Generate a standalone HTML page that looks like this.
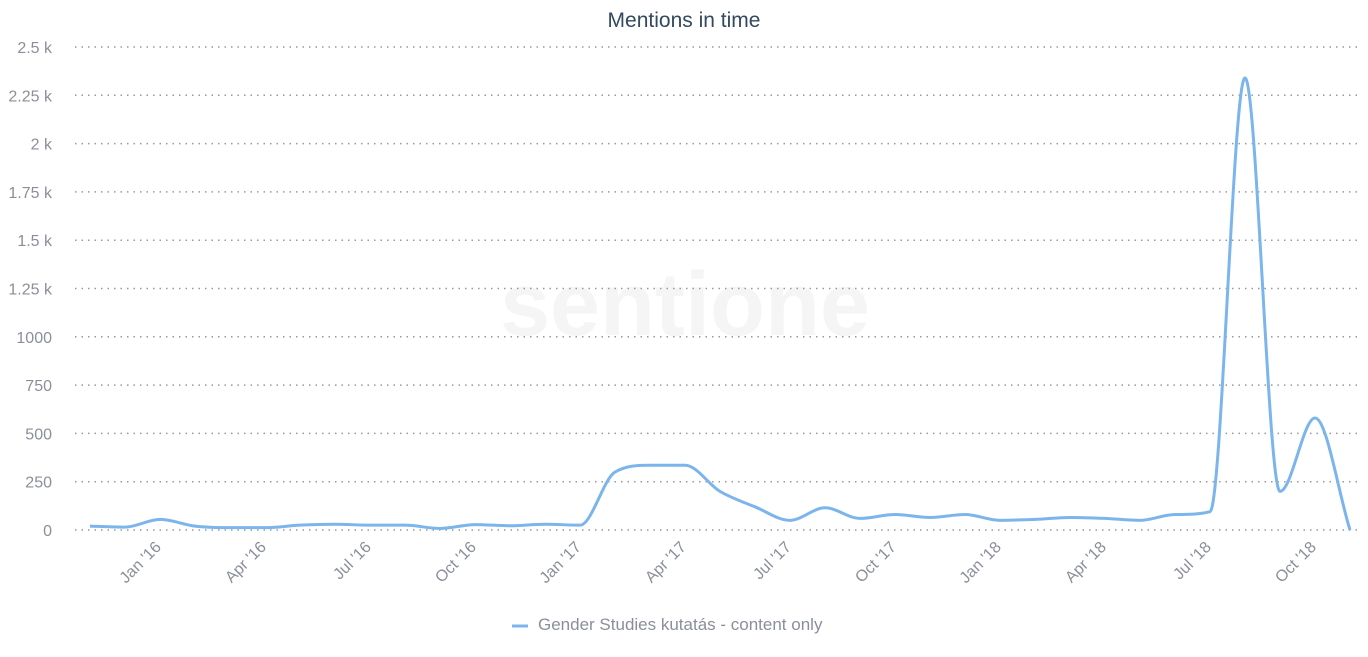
<!DOCTYPE html>
<html><head><meta charset="utf-8"><style>
body{margin:0;background:#fff;font-family:"Liberation Sans",sans-serif}
svg text{font-family:"Liberation Sans",sans-serif}
</style></head><body>
<svg id="chart" width="1368" height="652" xmlns="http://www.w3.org/2000/svg">
<text x="684" y="27" text-anchor="middle" font-size="21" fill="#34495e">Mentions in time</text>
<text x="685" y="335" text-anchor="middle" font-size="90" font-weight="bold" fill="#f5f5f5">sentione</text>
<g id="grid"></g><g id="ylabels"></g><g id="xlabels"></g>
<path id="line" fill="none" stroke="#7cb5ec" stroke-width="3"/>
<g>
<line x1="512" y1="626" x2="528" y2="626" stroke="#7cb5ec" stroke-width="3"/>
<text x="538" y="630" font-size="17" fill="#8a8f9a">Gender Studies kutatás - content only</text>
</g>
</svg>
<script>
const months=["Nov '15","Dec '15","Jan '16","Feb '16","Mar '16","Apr '16","May '16","Jun '16","Jul '16","Aug '16","Sep '16","Oct '16","Nov '16","Dec '16","Jan '17","Feb '17","Mar '17","Apr '17","May '17","Jun '17","Jul '17","Aug '17","Sep '17","Oct '17","Nov '17","Dec '17","Jan '18","Feb '18","Mar '18","Apr '18","May '18","Jun '18","Jul '18","Aug '18","Sep '18","Oct '18","Nov '18"];
const values=[20,15,55,20,12,12,25,30,25,25,8,28,22,30,25,300,335,335,200,120,50,115,60,80,65,80,50,55,65,60,50,80,95,2340,200,580,0];
const yTicks=[0,250,500,750,1000,1250,1500,1750,2000,2250,2500];
const yTickLabels=["0","250","500","750","1000","1.25 k","1.5 k","1.75 k","2 k","2.25 k","2.5 k"];
const xTickIdx=[2,5,8,11,14,17,20,23,26,29,32,35];
const xTickLabels=["Jan '16","Apr '16","Jul '16","Oct '16","Jan '17","Apr '17","Jul '17","Oct '17","Jan '18","Apr '18","Jul '18","Oct '18"];
const NS="http://www.w3.org/2000/svg";
const y=v=>530-v*(483/2500);
const x=i=>90+i*35;
const grid=document.getElementById('grid'),yl=document.getElementById('ylabels'),xl=document.getElementById('xlabels');
yTicks.forEach((t,k)=>{
 const l=document.createElementNS(NS,'line');
 
 
 l.setAttribute('x1',75);l.setAttribute('x2',1360);l.setAttribute('y1',y(t));l.setAttribute('y2',y(t));
 l.setAttribute('stroke','#999');l.setAttribute('stroke-dasharray','1.5,5');l.setAttribute('stroke-width','1.5');
 grid.appendChild(l);
 const tx=document.createElementNS(NS,'text');
 
 
 tx.setAttribute('x',52);tx.setAttribute('y',y(t)+6);tx.setAttribute('text-anchor','end');
 tx.setAttribute('font-size','16');tx.setAttribute('fill','#8a8f9a');tx.textContent=yTickLabels[k];
 yl.appendChild(tx);
});
xTickIdx.forEach((i,k)=>{
 const tx=document.createElementNS(NS,'text');
 
 
 const px=x(i)+2,py=548;
 tx.setAttribute('x',px);tx.setAttribute('y',py);tx.setAttribute('text-anchor','end');
 tx.setAttribute('transform','rotate(-45 '+px+' '+py+')');
 tx.setAttribute('font-size','16');tx.setAttribute('fill','#8a8f9a');tx.textContent=xTickLabels[k];
 xl.appendChild(tx);
});
// monotone cubic (Fritsch-Carlson)
const pts=values.map((v,i)=>[x(i),y(v)]);
const n=pts.length,dx=35;
const sl=[];for(let i=0;i<n-1;i++)sl.push((pts[i+1][1]-pts[i][1])/dx);
const m=[sl[0]];
for(let i=1;i<n-1;i++){m.push(sl[i-1]*sl[i]<=0?0:(sl[i-1]+sl[i])/2);}
m.push(sl[n-2]);
for(let i=0;i<n-1;i++){
 if(sl[i]===0){m[i]=0;m[i+1]=0;continue;}
 const a=m[i]/sl[i],b=m[i+1]/sl[i],h=a*a+b*b;
 if(h>9){const t=3/Math.sqrt(h);m[i]=t*a*sl[i];m[i+1]=t*b*sl[i];}
}
let d='M'+pts[0][0]+','+pts[0][1];
for(let i=0;i<n-1;i++){
 const p1=pts[i],p2=pts[i+1];
 d+=' C'+(p1[0]+dx/3)+','+(p1[1]+m[i]*dx/3)+' '+(p2[0]-dx/3)+','+(p2[1]-m[i+1]*dx/3)+' '+p2[0]+','+p2[1];
}
document.getElementById('line').setAttribute('d',d);
</script>
</body></html>
